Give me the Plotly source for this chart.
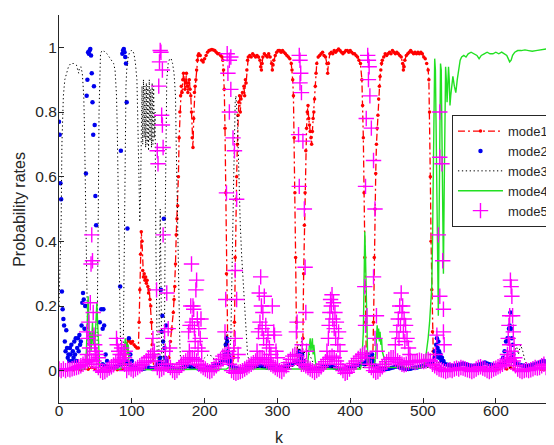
import plotly.graph_objects as go

# ---------------- data ----------------
mode1_pts = [(0,.002),(10,.002),(20,.003),(30,.002),(40,.004),(45,.01),(50,.004),(60,.002),(70,.002),(80,.003),(88,.005),(91,.02),(93,.08),(95,.095),(97,.09),(99,.085),(101,.09),(103,.08),(105,.075),(107,.07),(109,.07),(110,.15),(111,.25),(112,.36),(113,.43),(114,.4),(115,.31),(116,.29),(117,.3),(118,.28),(119,.29),(120,.27),(121,.28),(122,.26),(123,.24),(124,.25),(125,.22),(126,.2),(127,.15),(128,.08),(129,.03),(130,.01),(135,.004),(140,.003),(145,.004),(149,.01),(151,.04),(153,.09),(155,.13),(157,.18),(158,.22),(159,.26),(160,.33),(161,.42),(162,.47),(163,.51),(164,.6),(165,.72),(166,.8),(167,.85),(168,.88),(169,.86),(170,.9),(171,.92),(172,.9),(173,.87),(174,.89),(175,.92),(176,.88),(177,.86),(178,.89),(179,.9),(180,.87),(181,.85),(182,.8),(183,.72),(184,.69),(185,.78),(186,.86),(187,.88),(188,.9),(189,.93),(190,.96),(191,.975),(192,.98),(194,.975),(196,.96),(198,.955),(200,.965),(202,.975),(204,.985),(206,.99),(208,.992),(210,.993),(212,.992),(214,.99),(216,.985),(218,.98),(220,.98),(222,.975),(224,.97),(225,.96),(226,.93),(227,.87),(228,.75),(229,.55),(230,.3),(231,.1),(232,.03),(234,.02),(236,.03),(238,.02),(240,.04),(241,.15),(242,.35),(243,.53),(244,.6),(245,.7),(246,.79),(247,.83),(248,.85),(249,.8),(250,.84),(252,.86),(254,.88),(255,.85),(256,.9),(257,.89),(258,.93),(259,.96),(260,.97),(262,.975),(264,.97),(266,.98),(268,.975),(270,.97),(272,.975),(274,.97),(276,.96),(277,.94),(278,.93),(279,.95),(280,.97),(282,.98),(284,.975),(286,.97),(288,.98),(290,.97),(292,.95),(293,.93),(294,.945),(295,.96),(297,.975),(299,.985),(301,.99),(303,.99),(305,.985),(307,.99),(309,.985),(311,.98),(313,.975),(315,.97),(317,.965),(319,.95),(320,.93),(321,.9),(322,.85),(323,.72),(324,.55),(325,.35),(326,.15),(327,.05),(328,.02),(330,.02),(332,.02),(334,.03),(335,.1),(336,.3),(337,.45),(338,.55),(339,.68),(340,.75),(341,.8),(342,.82),(343,.78),(344,.76),(345,.74),(346,.72),(347,.7),(348,.74),(349,.78),(350,.8),(351,.84),(352,.88),(353,.92),(354,.95),(356,.97),(358,.975),(360,.98),(362,.985),(364,.975),(366,.97),(368,.95),(369,.92),(370,.95),(372,.98),(374,.985),(376,.98),(378,.99),(380,.985),(382,.99),(384,.995),(386,.99),(388,.985),(390,.98),(392,.985),(394,.99),(396,.99),(398,.985),(400,.99),(402,.985),(404,.98),(406,.98),(408,.975),(410,.97),(412,.96),(414,.95),(416,.9),(417,.82),(418,.72),(419,.55),(420,.35),(421,.15),(422,.05),(423,.02),(425,.03),(427,.02),(429,.03),(431,.04),(432,.15),(433,.35),(434,.5),(435,.61),(436,.7),(437,.75),(438,.79),(439,.84),(440,.88),(441,.91),(442,.93),(443,.95),(444,.96),(446,.97),(448,.98),(450,.975),(452,.98),(454,.985),(456,.98),(458,.99),(460,.985),(462,.98),(464,.985),(466,.98),(468,.975),(470,.97),(472,.95),(473,.93),(474,.94),(475,.96),(477,.975),(479,.98),(481,.985),(483,.99),(485,.985),(487,.98),(489,.985),(491,.98),(493,.985),(495,.98),(497,.985),(499,.98),(501,.97),(503,.965),(505,.95),(507,.93),(508,.9),(509,.8),(510,.6),(511,.4),(512,.25),(513,.12),(514,.06),(515,.02),(517,.01),(520,.005),(530,.003),(560,.002),(600,.002),(615,.005),(620,.01),(625,.005),(640,.002),(672,.002)]

mode2_scatter = [(0,.77),(1,.73),(2,.58),(3,.53),(4,.245),(5,.19),(6,.16),(7,.14),(8,.09),(9,.06),(10,.125),(11,.07),(12,.04),(13,.05),(14,.03),(15,.07),(16,.05),(17,.08),(18,.03),(19,.06),(20,.04),(21,.09),(22,.05),(23,.1),(24,.03),(25,.07),(26,.1),(27,.06),(28,.11),(29,.08),(30,.09),(31,.14),(32,.21),(33,.24),(34,.22),(35,.13),(36,.2),(37,.61),(38,.85),(39,.9),(40,.985),(41,.98),(42,.99),(43,.995),(44,.975),(45,.92),(46,.83),(47,.73),(48,.88),(49,.76),(50,.54),(51,.45),(56,.15),(58,.19),(60,.13),(61,.19),(62,.14),(64,.05),(66,.03),
                 (84,.26),(85,.68),(87,.98),(88,.99),(89,.995),(90,.985),(91,.97),(92,.95),(93,.83),(94,.44),(96,.1),(98,.05),(100,.03),
                 (139,.04),(140,.25),(141,.12),(142,.17),(143,.09),(144,.47),(145,.07),(146,.04),(147,.14),(148,.03),
                 (228,.05),(229,.08),(230,.1),(231,.09),(232,.06),(233,.05),(234,.04),(235,.03),
                 (326,.03),(328,.05),(330,.06),(332,.04),(334,.05),(336,.03),
                 (420,.02),(422,.04),(424,.05),(426,.04),(428,.03),(430,.05),(432,.03),
                 (514,.03),(516,.06),(518,.08),(519,.1),(520,.07),(521,.09),(522,.06),(524,.05),(526,.04),(528,.03),
                 (610,.04),(612,.06),(614,.09),(616,.1),(617,.1),(618,.13),(619,.14),(620,.18),(621,.13),(622,.1),(623,.08),(624,.05),(626,.03)]

# mode2 low band, one value every 3 steps of k from 60 to 672
mode2_band = [0.02,0.015,0.012,0.01,0.008,0.01,0.012,0.015,0.02,0.03,0.03,0.03,0.02,0.015,
              0.01,0.008,0.006,0.005,0.005,0.006,0.008,0.01,0.008,0.006,0.01,0.02,0.03,0.02,
              0.02,0.015,0.012,0.01,0.008,0.006,0.005,0.006,0.008,0.01,0.012,0.015,0.012,0.01,
              0.01,0.008,0.006,0.005,0.005,0.006,0.008,0.01,0.012,0.015,0.018,0.02,0.025,0.03,
              0.04,0.03,0.02,0.015,0.01,0.008,0.006,0.005,0.005,0.006,0.008,0.01,0.012,0.012,
              0.014,0.015,0.015,0.014,0.012,0.01,0.01,0.008,0.008,0.006,0.006,0.008,0.01,0.012,
              0.014,0.016,0.018,0.02,0.025,0.03,0.02,0.015,0.012,0.01,0.008,0.006,0.005,0.005,
              0.006,0.008,0.01,0.012,0.014,0.015,0.014,0.012,0.01,0.008,0.006,0.005,0.005,0.006,
              0.008,0.01,0.012,0.014,0.016,0.018,0.02,0.022,0.025,0.03,0.03,0.025,0.02,0.015,
              0.01,0.008,0.006,0.005,0.005,0.006,0.008,0.01,0.012,0.012,0.01,0.008,0.006,0.005,
              0.005,0.006,0.008,0.01,0.01,0.012,0.014,0.016,0.018,0.02,0.025,0.03,0.04,0.05,
              0.04,0.03,0.025,0.02,0.018,0.016,0.015,0.015,0.016,0.018,0.02,0.022,0.02,0.018,
              0.016,0.015,0.014,0.016,0.018,0.02,0.022,0.025,0.022,0.02,0.018,0.016,0.015,0.016,
              0.018,0.02,0.025,0.03,0.035,0.04,0.03,0.025,0.02,0.018,0.016,0.015,0.014,0.015,
              0.016,0.018,0.02,0.022,0.025,0.028,0.03,0.025,0.02]
mode2_band_k = list(range(60, 673, 3))

mode3_pts = [(0,.2),(1,.3),(2,.42),(3,.47),(4,.7),(5,.8),(6,.85),(8,.9),(10,.92),(13,.94),(16,.95),(20,.95),(24,.945),(26,.93),(27,.92),(28,.935),(30,.94),(32,.92),(34,.85),(35,.75),(36,.6),(37,.4),(38,.2),(39,.05),(40,.01),(45,.01),(50,.01),(52,.02),(53,.2),(54,.5),(55,.8),(56,.93),(57,.98),(59,.99),(61,.99),(63,.985),(66,.98),(69,.97),(72,.96),(75,.95),(77,.93),(78,.9),(79,.85),(80,.75),(81,.6),(82,.4),(83,.2),(84,.05),(85,.01),(88,.01),(89,.2),(90,.5),(91,.75),(92,.88),(93,.93),(95,.97),(97,.985),(99,.99),(101,.99),(103,.98),(105,.95),(107,.9),(108,.8),(109,.65),(110,.5),(111,.46),(112,.55),(113,.75),(114,.88),(115,.7),(116,.9),(117,.72),(118,.88),(119,.69),(120,.89),(121,.7),(122,.88),(123,.68),(124,.9),(125,.71),(126,.87),(127,.69),(128,.89),(129,.7),(130,.88),(131,.72),(132,.8),(133,.4),(134,.1),(135,.02),(137,.01),(138,.25),(139,.5),(140,.3),(141,.05),(143,.02),(145,.15),(146,.5),(147,.8),(148,.9),(150,.95),(152,.965),(154,.965),(156,.95),(158,.92),(160,.85),(161,.7),(162,.55),(163,.45),(164,.35),(165,.2),(166,.08),(167,.03),(170,.01),(180,.01),(190,.01),(195,.02),(200,.04),(205,.05),(210,.045),(215,.03),(220,.02),(225,.03),(228,.08),(230,.12),(232,.06),(234,.04),(236,.1),(238,.3),(240,.6),(242,.83),(243,.85),(245,.78),(247,.6),(249,.45),(251,.35),(253,.27),(255,.2),(257,.12),(259,.05),(262,.02),(270,.01),(300,.01),(320,.01),(325,.03),(328,.08),(330,.06),(333,.09),(336,.05),(340,.07),(344,.05),(348,.03),(352,.01),(420,.01),(425,.03),(430,.02),(440,.01),(515,.01),(520,.03),(525,.01),(620,.01),(625,.05),(628,.08),(631,.05),(634,.08),(637,.06),(640,.03),(645,.01),(672,.005)]

mode4_pts = [(0,.003),(20,.004),(35,.005),(37,.02),(38,.1),(39,.2),(40,.23),(41,.15),(42,.08),(43,.12),(44,.06),(45,.1),(46,.15),(47,.08),(48,.12),(49,.07),(50,.14),(51,.18),(52,.21),(53,.15),(54,.08),(55,.03),(56,.01),(60,.003),(85,.005),(88,.02),(90,.06),(91,.1),(92,.07),(93,.09),(94,.05),(95,.08),(96,.03),(98,.005),(130,.003),(230,.005),(233,.01),(236,.005),(340,.005),(342,.03),(344,.08),(345,.1),(346,.06),(347,.09),(348,.1),(349,.05),(350,.08),(352,.03),(354,.005),(414,.005),(416,.03),(418,.12),(419,.3),(420,.43),(421,.35),(422,.2),(423,.08),(424,.03),(426,.02),(430,.01),(433,.02),(435,.05),(436,.1),(437,.14),(438,.1),(439,.13),(440,.09),(441,.12),(442,.08),(443,.1),(444,.06),(446,.04),(448,.02),(450,.01),(465,.01),(468,.03),(470,.02),(475,.01),(495,.008),(500,.013),(503,.03),(505,.06),(507,.1),(509,.15),(511,.22),(512,.26),(513,.4),(514,.6),(515,.85),(516,.965),(517,.93),(518,.75),(519,.5),(520,.3),(521,.17),(522,.45),(523,.8),(524,.95),(525,.93),(526,.7),(527,.45),(528,.3),(529,.55),(530,.85),(531,.94),(532,.9),(533,.83),(534,.88),(535,.94),(536,.9),(537,.82),(538,.85),(540,.9),(541,.91),(543,.88),(545,.86),(547,.9),(549,.94),(551,.96),(553,.97),(556,.975),(559,.97),(562,.98),(566,.985),(570,.98),(574,.975),(577,.965),(580,.975),(584,.98),(588,.985),(592,.98),(596,.98),(600,.985),(604,.98),(608,.985),(612,.98),(615,.975),(617,.965),(619,.955),(621,.96),(623,.975),(626,.985),(630,.99),(635,.99),(640,.992),(645,.99),(650,.988),(655,.99),(660,.992),(665,.993),(670,.995)]

# mode5 low band, one value every 3 steps of k from 0 to 672
mode5_band = [0.005,0.0,0.005,0.0,0.005,0.003,0.006,0.008,0.01,0.012,0.015,0.02,0.025,0.03,0.035,
              0.03,0.03,0.02,0.01,0.0,-0.005,-0.003,0.003,0.008,0.012,0.018,0.025,0.03,0.035,0.03,
              0.02,0.0,0.01,0.005,0.0,0.005,0.01,0.015,0.02,0.025,0.03,0.04,0.045,0.05,0.03,
              0.01,0.0,0.005,0.01,0.02,0.02,0.01,0.0,-0.005,0.0,0.01,0.02,0.025,0.03,0.035,
              0.04,0.04,0.035,0.03,0.02,0.015,0.01,0.005,0.0,-0.003,0.0,0.008,0.015,0.025,0.035,
              0.045,0.05,0.04,0.02,0.0,-0.005,-0.008,-0.005,-0.003,0.0,0.005,0.01,0.015,0.02,0.025,
              0.03,0.035,0.04,0.04,0.035,0.03,0.025,0.02,0.015,0.01,0.005,0.0,-0.003,0.005,0.015,
              0.025,0.035,0.045,0.05,0.045,0.03,0.02,0.02,0.015,0.01,0.005,0.0,-0.005,0.0,0.005,
              0.012,0.02,0.028,0.035,0.04,0.045,0.04,0.03,0.02,0.01,0.0,-0.008,-0.005,0.005,0.015,
              0.022,0.03,0.038,0.045,0.05,0.055,0.04,0.02,0.01,0.0,-0.005,-0.003,0.005,0.012,0.02,
              0.028,0.035,0.04,0.04,0.035,0.03,0.025,0.02,0.018,0.02,0.025,0.03,0.028,0.025,0.03,
              0.032,0.03,0.028,0.03,0.035,0.03,0.02,0.015,0.01,0.005,0.003,0.0,-0.003,0.0,0.003,
              0.0,0.005,0.008,0.005,0.01,0.008,0.005,0.003,0.0,-0.003,0.0,0.005,0.01,0.012,0.008,
              0.005,0.0,-0.003,0.0,0.005,0.008,0.012,0.015,0.02,0.025,0.03,0.035,0.04,0.03,0.015,
              0.005,0.0,-0.003,0.0,0.003,0.0,0.003,0.006,0.01,0.008,0.01,0.015,0.02,0.01,0.005]
mode5_band_k = list(range(0, 673, 3))

mode5_peaks = [(38,.12),(40,.1),(41,.15),(43,.21),(44,.33),(45,.42),(46,.34),(47,.18),(48,.11),(49,.08),(50,.06),(52,.05),(54,.04),(42,.07),(39,.05),
               (79,.1),(80,.08),(82,.06),(84,.05),(86,.07),(88,.05),(90,.04),(91,.06),
               (129,.1),(131,.06),(134,.25),(135,.68),(136,.64),(137,.88),(138,.955),(139,.99),(140,.985),(141,.79),(142,.93),(142,.76),(143,.69),(143,.42),(145,.12),(148,.24),(150,.13),(152,.07),(146,.06),
               (178,.12),(180,.14),(181,.2),(182,.33),(183,.15),(184,.2),(185,.19),(186,.13),(188,.25),(189,.28),(190,.16),(192,.13),(194,.1),(195,.16),(187,.09),(191,.07),(196,.06),(179,.06),
               (228,.12),(229,.22),(230,.55),(231,.98),(232,.92),(234,.8),(234,.96),(236,.87),(236,.97),(239,.72),(241,.68),(242,.31),(242,.1),(244,.53),(244,.22),(246,.05),(233,.06),(238,.04),(240,.07),
               (272,.06),(274,.12),(275,.24),(276,.15),(277,.29),(278,.2),(279,.13),(280,.18),(281,.1),(282,.23),(284,.14),(285,.08),(287,.11),(289,.07),(291,.05),(293,.2),(295,.12),(296,.11),(298,.06),(300,.04),
               (330,.975),(331,.96),(332,.92),(331,.89),(333,.86),(329,.73),(335,.71),(330,.57),(337,.5),(338,.32),(339,.18),(327,.15),(326,.12),(334,.08),(340,.06),
               (368,.06),(370,.1),(371,.14),(372,.18),(373,.22),(374,.2),(375,.235),(376,.16),(377,.21),(378,.13),(379,.18),(380,.1),(381,.15),(383,.08),(384,.12),(386,.06),
               (424,.975),(425,.96),(426,.94),(425,.9),(427,.85),(422,.78),(429,.75),(432,.65),(421,.57),(434,.5),(432,.29),(420,.26),(436,.17),(421,.14),(423,.17),(434,.1),(437,.06),
               (462,.08),(464,.12),(466,.16),(467,.1),(468,.2),(469,.14),(470,.24),(471,.18),(472,.2),(473,.12),(474,.16),(475,.09),(476,.14),(478,.1),(480,.07),(482,.05),
               (523,.8),(523,.66),(526,.64),(521,.42),(527,.34),(523,.23),(528,.19),(528,.12),(529,.08),(519,.11),(517,.05),
               (616,.05),(617,.1),(618,.14),(619,.17),(620,.28),(621,.26),(622,.23),(623,.17),(624,.12),(625,.08),(619,.08),(621,.06),(626,.04)]

series_names = ["mode1", "mode2", "mode3", "mode4", "mode5"]
x_ticks = [0, 100, 200, 300, 400, 500, 600]
y_ticks = [0, 0.2, 0.4, 0.6, 0.8, 1]
x_label = "k"
y_label = "Probability rates"

# ---------------- figure ----------------
def unzip(pts):
    return [p[0] for p in pts], [p[1] for p in pts]

AX = "#262626"
FONT = "Liberation Sans, Arial, Helvetica, sans-serif"

fig = go.Figure()

k1, y1 = unzip(mode1_pts)
fig.add_trace(go.Scatter(x=k1, y=y1, name=series_names[0], mode="lines+markers",
                         line=dict(color="#ff0000", width=1.3, dash="7px,3px,2px,3px"),
                         marker=dict(color="#ff0000", size=3.5, symbol="circle")))

k2s, y2s = unzip(mode2_scatter)
fig.add_trace(go.Scatter(x=mode2_band_k + k2s, y=mode2_band + y2s, name=series_names[1], mode="markers",
                         marker=dict(color="#0000ee", size=4.5, symbol="circle")))

k3, y3 = unzip(mode3_pts)
fig.add_trace(go.Scatter(x=k3, y=y3, name=series_names[2], mode="lines",
                         line=dict(color="#000000", width=1.0, dash="1.3px,2.6px")))

k4, y4 = unzip(mode4_pts)
fig.add_trace(go.Scatter(x=k4, y=y4, name=series_names[3], mode="lines",
                         line=dict(color="#22e022", width=1.4)))

k5p, y5p = unzip(mode5_peaks)
fig.add_trace(go.Scatter(x=mode5_band_k + k5p, y=mode5_band + y5p, name=series_names[4], mode="markers",
                         marker=dict(symbol="cross-thin", size=11, color="#ff00ff",
                                     line=dict(color="#ff00ff", width=1.4))))

# The page body adds an 8px offset; the figure is sized to the visible 546x437 area.
fig.update_layout(
    width=546, height=437,
    margin=dict(l=51, r=5, t=7, b=42, autoexpand=False),
    paper_bgcolor="white", plot_bgcolor="white",
    font=dict(family=FONT, color=AX, size=15),
    showlegend=True,
    legend=dict(x=0.802, y=0.742, xanchor="left", yanchor="top",
                bgcolor="white", bordercolor=AX, borderwidth=1,
                font=dict(size=13, color="#262626", family=FONT),
                itemwidth=45, tracegroupgap=0),
    xaxis=dict(range=[0, 673], showgrid=False, zeroline=False, showline=True,
               linecolor=AX, linewidth=1, ticks="inside", ticklen=5, tickcolor=AX,
               tickvals=x_ticks, tickfont=dict(size=15.5, color=AX),
               ticklabelstandoff=-7),
    yaxis=dict(range=[-0.1, 1.1], showgrid=False, zeroline=False, showline=True,
               linecolor=AX, linewidth=1, ticks="inside", ticklen=5, tickcolor=AX,
               tickvals=y_ticks, tickfont=dict(size=15.5, color=AX),
               ticklabelstandoff=-2),
    annotations=[
        dict(text=x_label, xref="paper", yref="paper", x=0.451, y=-0.088,
             xanchor="center", yanchor="middle", showarrow=False,
             font=dict(size=16, color=AX)),
        dict(text=y_label, xref="paper", yref="paper", x=-0.082, y=0.5,
             xanchor="center", yanchor="middle", showarrow=False, textangle=-90,
             font=dict(size=16, color=AX)),
    ],
)

fig.write_html("out.html")
